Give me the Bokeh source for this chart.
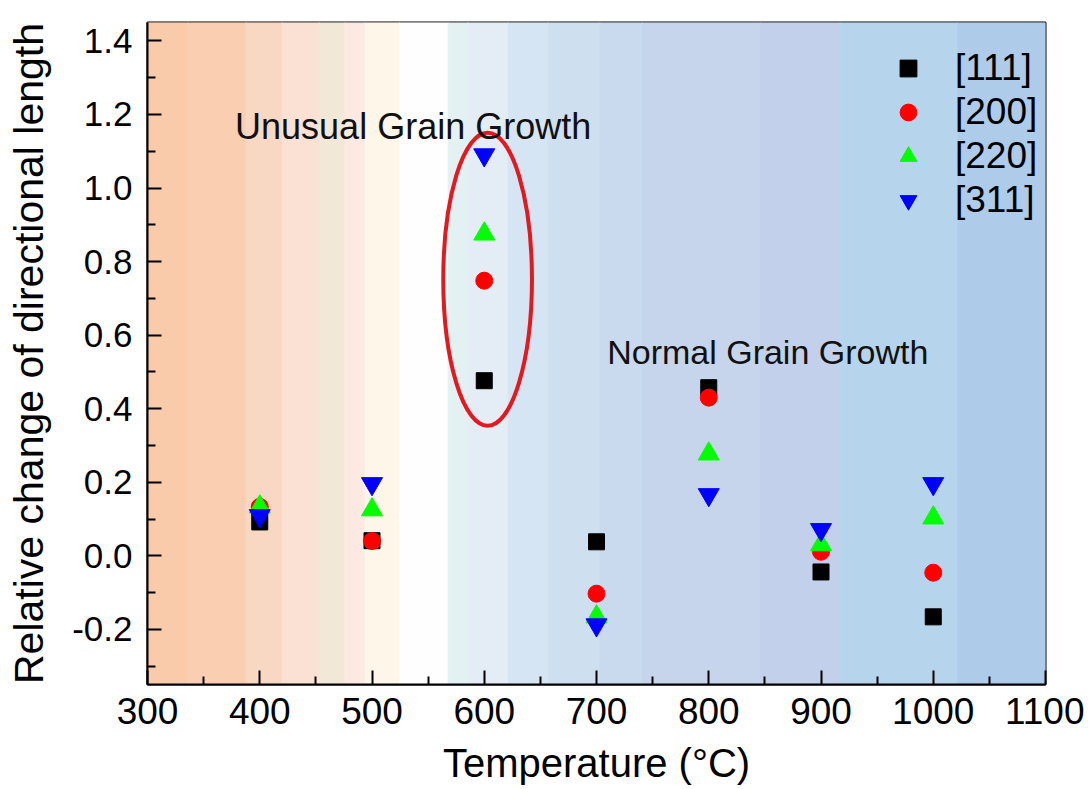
from bokeh.plotting import figure
from bokeh.embed import file_html
from bokeh.resources import INLINE
from bokeh.core.properties import value
from bokeh.models import (Range1d, FixedTicker, PrintfTickFormatter, Legend,
                          LegendItem, ColumnDataSource)

# ---------------- data ----------------
temperature = [400, 500, 600, 700, 800, 900, 1000]
dir_111 = [0.092, 0.041, 0.476, 0.038, 0.457, -0.044, -0.166]
dir_200 = [0.133, 0.040, 0.748, -0.103, 0.430, 0.011, -0.046]
dir_220 = [0.133, 0.125, 0.875, -0.166, 0.277, 0.030, 0.103]
dir_311 = [0.109, 0.196, 1.090, -0.188, 0.166, 0.071, 0.196]

x_ticks = [300, 400, 500, 600, 700, 800, 900, 1000, 1100]
x_minor = [350, 450, 550, 650, 750, 850, 950, 1050]
y_ticks = [-0.2, 0.0, 0.2, 0.4, 0.6, 0.8, 1.0, 1.2, 1.4]
y_minor = [-0.3, -0.1, 0.1, 0.3, 0.5, 0.7, 0.9, 1.1, 1.3]

# background colour bands (temperature edges)
band_edges = [300, 335.7, 387.8, 419.9, 453, 476, 493.9, 524.5, 567.9, 585.7,
              621.4, 657, 703, 741, 846, 917, 1022, 1100]
band_colors = ["#F9CBAA", "#FACEB0", "#F9D8C3", "#FBE1D3", "#F2E8D8", "#FCE9E1",
               "#FDF6E9", "#FEFEFE", "#E3F1F3", "#E4ECF5", "#D6E5F3", "#CEE0F0",
               "#C9DAEE", "#C6D5EC", "#C3D0EB", "#B6D5EC", "#AFCBEA"]

FONT = "Liberation Sans"

p = figure(width=1084, height=787, x_range=Range1d(300, 1100),
           y_range=Range1d(-0.35, 1.45), output_backend="svg",
           toolbar_location=None, min_border_left=147, min_border_right=39,
           min_border_top=22, min_border_bottom=102,
           background_fill_color="white", border_fill_color="white")

# background bands
bsrc = ColumnDataSource(dict(left=band_edges[:-1], right=band_edges[1:],
                             color=band_colors))
p.quad(left="left", right="right", bottom=-0.35, top=1.45, fill_color="color",
       line_color="color", line_width=1, source=bsrc)

p.xgrid.visible = False
p.ygrid.visible = False
p.outline_line_color = "black"
p.outline_line_width = 2
p.outline_line_alpha = 1

for ax in (p.xaxis[0], p.yaxis[0]):
    ax.major_tick_in = 14
    ax.major_tick_out = 0
    ax.minor_tick_in = 8
    ax.minor_tick_out = 0
    ax.major_tick_line_width = 2
    ax.minor_tick_line_width = 2
    ax.major_tick_line_color = "black"
    ax.minor_tick_line_color = "black"
    ax.axis_line_width = 2
    ax.axis_line_color = "black"
    ax.major_label_text_font = FONT
    ax.major_label_text_color = "black"
    ax.axis_label_text_font = FONT
    ax.axis_label_text_font_style = "normal"
    ax.axis_label_text_color = "black"

p.xaxis.ticker = FixedTicker(ticks=x_ticks, minor_ticks=x_minor)
p.yaxis.ticker = FixedTicker(ticks=y_ticks, minor_ticks=y_minor)
p.yaxis.formatter = PrintfTickFormatter(format="%.1f")
p.xaxis.major_label_text_font_size = "37px"
p.yaxis.major_label_text_font_size = "35px"
p.xaxis.major_label_standoff = 13
p.yaxis.major_label_standoff = 15
p.xaxis.axis_label = "Temperature (°C)"
p.yaxis.axis_label = "Relative change of directional length"
p.xaxis.axis_label_text_font_size = "40px"
p.yaxis.axis_label_text_font_size = "41px"
p.xaxis.axis_label_standoff = 14
p.yaxis.axis_label_standoff = 17

# highlight ellipse
p.ellipse(x=[603], y=[0.752], width=[79], height=[0.797], fill_color=None,
          line_color="#E3191F", line_width=4)

# series
r1 = p.scatter(temperature, dir_111, marker="square", size=16, color="black")
r2 = p.scatter(temperature, dir_200, marker="circle", size=17, color="#FF0000")
r3 = p.scatter(temperature, dir_220, marker="triangle", size=21, color="#00FF00")
r4 = p.scatter(temperature, dir_311, marker="inverted_triangle", size=21,
               color="#0000FF")

# annotations
p.text(x=[378], y=[1.167], text=["Unusual Grain Growth"], text_font=value(FONT),
       text_font_size="36px", text_baseline="alphabetic", text_align="left",
       text_color="#111111")
p.text(x=[709.5], y=[0.553], text=["Normal Grain Growth"], text_font=value(FONT),
       text_font_size="34px", text_baseline="alphabetic", text_align="left",
       text_color="#111111")

legend = Legend(items=[LegendItem(label="[111]", renderers=[r1]),
                       LegendItem(label="[200]", renderers=[r2]),
                       LegendItem(label="[220]", renderers=[r3]),
                       LegendItem(label="[311]", renderers=[r4])],
                location=(740, 463), orientation="vertical",
                glyph_width=42, glyph_height=42, label_standoff=26, spacing=2,
                padding=0, margin=0, border_line_color=None,
                background_fill_alpha=0, label_text_font=FONT,
                label_text_color="black",
                label_text_font_size="37px", label_height=42)
p.add_layout(legend)

open("out.html", "w").write(file_html(p, INLINE))
